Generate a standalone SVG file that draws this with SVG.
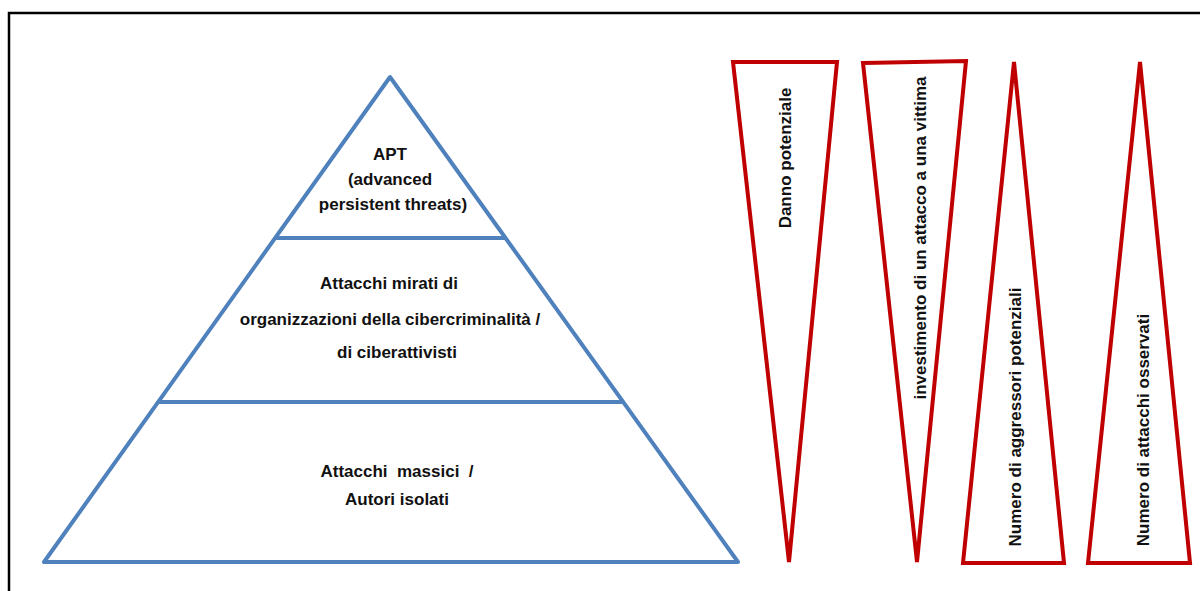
<svg xmlns="http://www.w3.org/2000/svg" width="1200" height="591" viewBox="0 0 1200 591">
<style>
.frame{fill:none;stroke:#000;stroke-width:2.5}
.pyr{fill:#fff;stroke:#4f81bd;stroke-width:4;stroke-linejoin:round}
.sep{stroke:#4f81bd;stroke-width:4}
.red{fill:#fff;stroke:#c00000;stroke-width:4;stroke-linejoin:miter}
text{font-family:"Liberation Sans",Arial,sans-serif;font-weight:bold;font-size:17px;fill:#111;text-anchor:middle}
</style>
<rect x="0" y="0" width="1200" height="591" fill="#fff"/>
<rect class="frame" x="9" y="13" width="1300" height="700"/>
<g id="pyramid">
<polygon class="pyr" points="390,77 44,562 738,562"/>
<line class="sep" x1="275" y1="238" x2="505" y2="238"/>
<line class="sep" x1="158" y1="402" x2="623" y2="402"/>
</g>
<g id="level-apt">
<text x="390" y="160">APT</text>
<text x="390" y="185">(advanced</text>
<text x="393" y="210">persistent threats)</text>
</g>
<g id="level-mirati">
<text x="389" y="289">Attacchi mirati di</text>
<text x="390" y="325">organizzazioni della cibercriminalità /</text>
<text x="397" y="358">di ciberattivisti</text>
</g>
<g id="level-massici">
<text x="397" y="477" xml:space="preserve">Attacchi  massici  /</text>
<text x="397" y="505">Autori isolati</text>
</g>
<g id="danno">
<polygon class="red" points="733,62 837,62 789,562"/>
<text transform="translate(791,158) rotate(-90)">Danno potenziale</text>
</g>
<g id="investimento">
<polygon class="red" points="863,63 966,61 917,562"/>
<text transform="translate(926,238) rotate(-90)">investimento di un attacco a una vittima</text>
</g>
<g id="aggressori">
<polygon class="red" points="1014,62 963,563 1064,563"/>
<text transform="translate(1021,417) rotate(-90)">Numero di aggressori potenziali</text>
</g>
<g id="attacchi">
<polygon class="red" points="1140,62 1088,563 1190,563"/>
<text transform="translate(1149,430) rotate(-90)">Numero di attacchi osservati</text>
</g>
<g id="connectors"></g>
</svg>
